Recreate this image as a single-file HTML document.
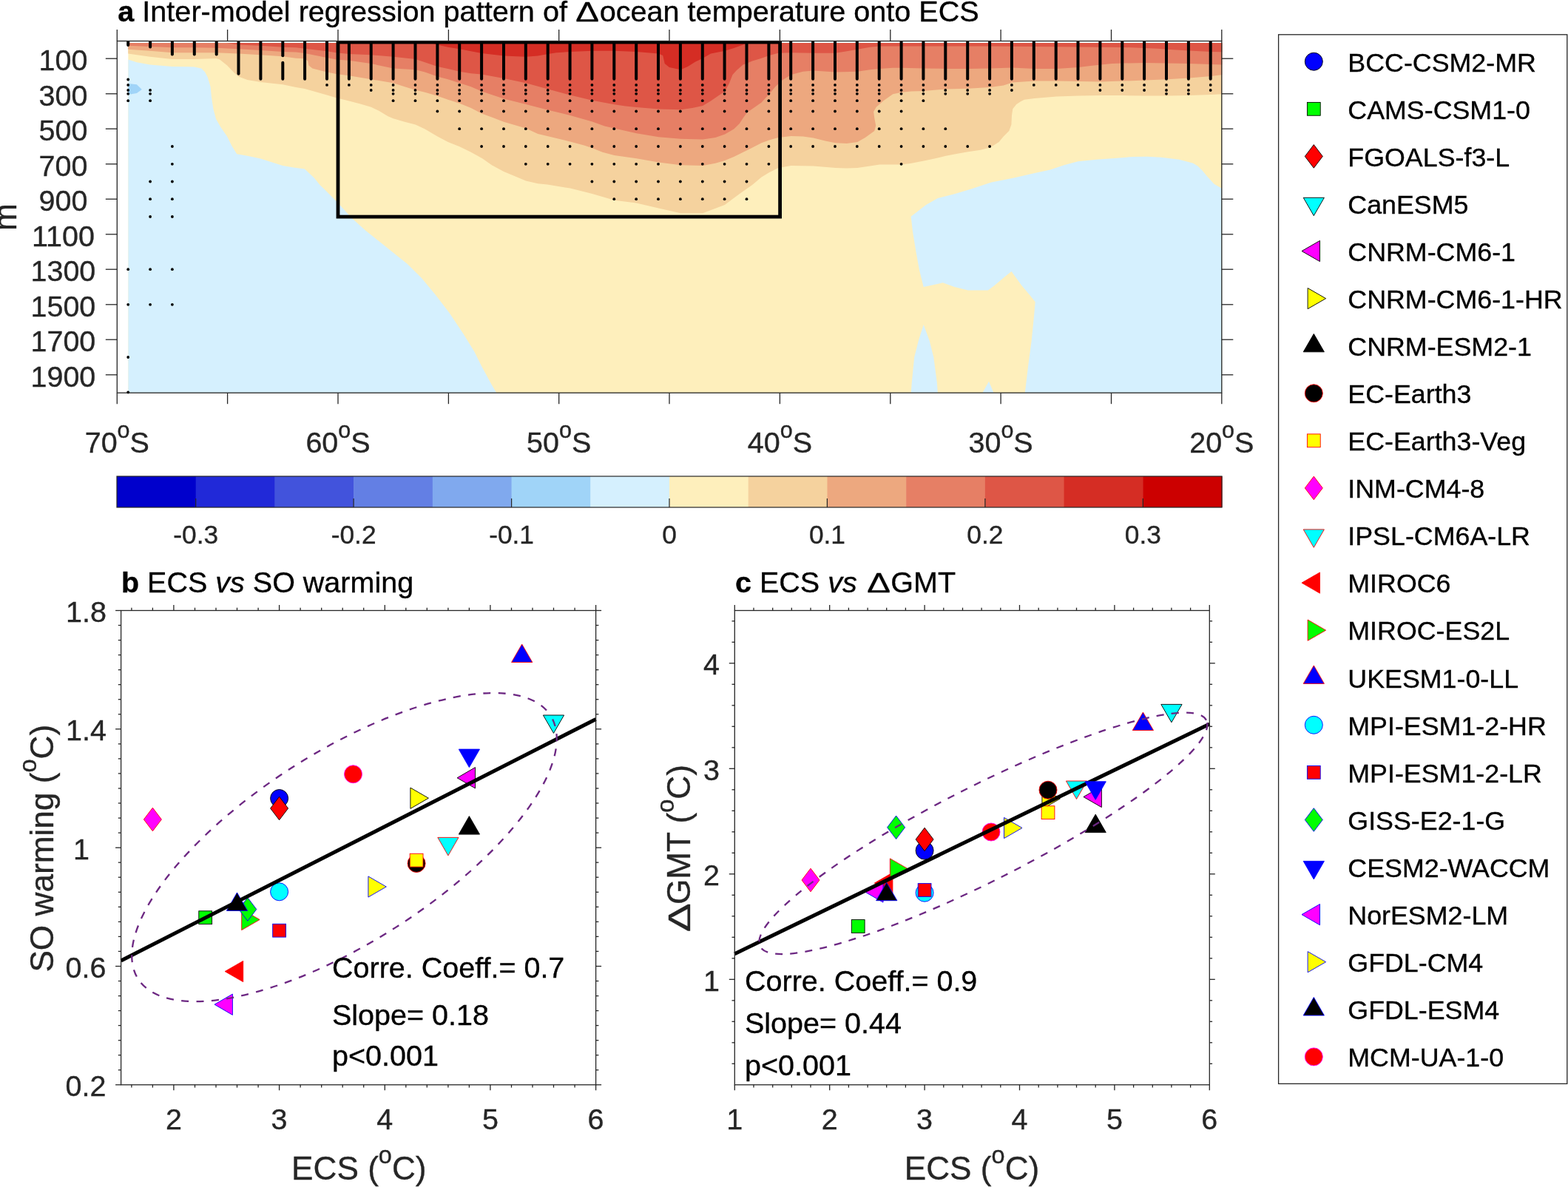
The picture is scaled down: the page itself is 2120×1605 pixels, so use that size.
<!DOCTYPE html>
<html lang="en"><head><meta charset="utf-8"><title>Inter-model regression pattern of ocean temperature onto ECS</title>
<style>html,body{margin:0;padding:0;background:#fff;}body{width:2120px;height:1605px;overflow:hidden;}svg{display:block;}text{white-space:pre;}</style>
</head><body>
<svg xmlns="http://www.w3.org/2000/svg" width="2120" height="1605" viewBox="0 0 2120 1605" font-family="'Liberation Sans', Arial, Helvetica, sans-serif">
<rect width="2120" height="1605" fill="#fff"/>
<g id="panel-a">
<clipPath id="ca"><rect x="173.2" y="57.9" width="1479.1" height="473.3"/></clipPath>
<clipPath id="cb"><rect x="158.3" y="55.5" width="1493.5" height="478.7"/></clipPath>
<g clip-path="url(#ca)">
<rect x="173.2" y="55.5" width="1481.1" height="477.7" fill="#FEEFBC"/>
<polygon points="173.2,80.5 184.9,84.3 202.9,87.4 232.8,89.9 262.6,90.5 272.2,92.4 277.2,97.4 280.9,104.8 284.6,117.3 285.9,131.0 288.4,147.2 292.1,160.9 298.4,172.1 307.1,184.6 313.3,197.1 320.2,208.3 334.5,210.8 352.3,214.5 371.9,220.8 382.2,223.9 396.8,226.4 412.0,228.5 425.0,240.7 432.4,250.0 437.7,255.1 456.6,274.0 475.5,294.7 494.3,311.7 513.2,326.8 532.1,341.9 550.9,357.0 569.8,375.8 588.7,398.5 607.5,423.0 626.4,451.3 641.5,475.8 650.9,494.7 664.2,519.2 671.7,532.0 173.2,531.5" fill="#D5F0FE"/>
<polygon points="1653.0,255.5 1641.5,248.7 1631.9,238.2 1625.7,230.7 1619.4,224.5 1613.2,220.8 1594.5,215.8 1569.6,212.7 1550.9,211.8 1532.2,212.0 1507.2,213.9 1482.3,215.8 1457.4,218.3 1438.7,223.3 1420.0,229.5 1399.2,234.0 1369.8,240.8 1340.4,246.4 1313.2,255.5 1290.6,262.3 1267.9,267.9 1252.1,277.0 1231.7,292.8 1234.0,313.2 1238.5,340.4 1243.0,365.3 1248.7,387.9 1274.7,382.3 1290.6,387.9 1308.7,392.5 1335.9,392.5 1344.9,385.7 1358.5,374.3 1367.5,367.1 1381.1,385.7 1392.5,399.2 1399.7,408.3 1398.1,426.4 1394.7,460.4 1390.2,494.3 1385.7,532.0 1653.0,532.0" fill="#D5F0FE"/>
<polygon points="1248.7,438.9 1241.9,460.4 1236.2,483.0 1232.8,517.0 1231.7,532.0 1267.9,532.0 1266.8,517.0 1262.3,483.0 1256.6,460.4" fill="#D5F0FE"/>
<polygon points="1337.0,515.8 1327.9,532.0 1343.8,532.0" fill="#D5F0FE"/>
<polygon points="173.2,112.9 184.9,114.2 191.8,121.0 184.9,126.0 173.2,127.9" fill="#A0D4F8"/>
<polygon points="172.2,54.5 172.2,72.4 173.2,72.4 202.9,76.8 232.8,79.9 262.6,79.9 292.5,78.9 297.1,80.5 307.1,88.6 315.8,97.4 322.4,103.6 334.5,108.0 352.3,111.1 382.2,114.2 400.0,117.9 412.0,120.0 442.0,128.5 454.5,132.3 471.9,136.6 487.2,140.4 501.7,144.7 512.2,149.7 524.6,157.2 531.7,160.3 547.1,164.7 561.7,168.4 574.5,174.6 591.5,184.6 605.7,192.1 621.4,198.3 636.8,205.8 652.5,214.5 664.9,223.3 681.1,232.0 696.1,238.2 711.0,244.4 727.2,248.2 740.0,249.5 770.9,254.6 800.7,262.0 830.6,270.8 860.4,274.5 890.3,281.4 920.2,288.2 950.1,288.2 979.9,277.0 1000.0,262.0 1017.1,250.0 1029.6,239.5 1039.9,233.2 1052.3,227.0 1069.7,223.9 1099.6,224.5 1129.5,227.0 1144.9,227.6 1159.4,227.0 1176.1,224.5 1189.3,222.6 1207.2,222.6 1219.2,222.6 1232.2,220.8 1249.1,217.6 1263.3,214.5 1278.9,210.8 1294.5,207.7 1308.8,205.2 1325.7,202.7 1338.7,199.6 1350.6,192.1 1356.8,184.6 1364.3,177.1 1367.4,168.4 1368.0,155.9 1369.3,147.2 1374.3,141.0 1380.0,137.3 1384.9,134.8 1398.6,132.9 1428.6,130.4 1458.3,129.5 1488.4,129.1 1518.2,129.1 1548.0,129.5 1577.9,129.5 1607.8,129.1 1637.6,127.9 1653.0,127.3 1652.8,127.3 1652.8,54.5" fill="#F5D29E"/>
<polygon points="172.2,54.5 172.2,66.8 173.2,66.8 202.9,68.7 232.8,71.2 262.6,71.2 292.5,71.2 322.4,72.4 352.3,74.3 382.2,76.2 400.0,78.7 412.1,79.3 416.2,82.4 417.4,88.6 422.4,92.4 442.0,97.4 454.5,99.9 471.9,102.3 501.7,107.3 531.7,112.3 547.1,117.3 561.7,121.7 574.5,124.8 591.5,129.8 605.7,134.8 621.4,139.7 636.8,146.0 651.2,153.5 664.9,158.4 681.1,164.7 711.0,173.4 727.2,180.9 741.0,184.2 770.8,191.5 789.6,196.5 800.8,200.3 814.5,205.8 830.5,210.0 860.5,214.3 890.5,219.6 920.3,223.3 950.2,224.0 967.2,220.8 980.1,217.0 992.2,212.0 1009.9,203.3 1029.6,193.3 1039.9,189.6 1052.3,185.9 1069.7,184.0 1085.7,184.6 1099.6,186.5 1116.8,190.8 1129.6,193.3 1144.9,194.0 1159.4,192.1 1169.9,185.9 1182.3,177.1 1184.2,169.7 1182.3,159.7 1181.1,151.0 1184.8,144.7 1194.8,136.0 1207.2,127.3 1219.2,124.8 1232.2,123.5 1249.1,122.9 1278.9,120.4 1308.8,119.8 1338.7,117.9 1356.8,115.4 1368.7,111.5 1398.6,109.6 1428.6,109.6 1458.3,110.1 1488.4,110.5 1518.2,109.6 1548.0,108.6 1577.9,107.2 1607.8,105.5 1637.6,103.0 1653.0,101.1 1652.8,101.1 1652.8,54.5" fill="#EDA87F"/>
<polygon points="172.2,54.5 172.2,61.8 173.2,61.8 202.9,63.1 232.8,64.3 262.6,64.3 292.5,64.7 322.4,66.2 352.3,68.1 382.2,69.9 400.0,70.6 412.1,72.0 442.0,78.0 454.5,80.5 471.9,81.8 501.7,86.1 531.7,92.4 561.7,94.2 574.5,97.4 591.5,103.6 605.7,107.3 621.4,112.3 636.8,117.3 651.2,123.5 681.1,133.5 711.0,141.0 741.0,148.7 770.8,156.0 800.8,164.5 817.3,170.5 830.5,173.5 860.5,180.3 890.5,185.3 920.3,187.8 950.2,188.4 967.2,185.9 980.1,181.5 992.2,174.6 999.7,167.2 1004.6,159.7 1009.9,152.2 1017.1,147.2 1029.6,138.5 1039.9,127.3 1048.3,117.3 1057.6,108.6 1069.7,101.1 1085.7,96.7 1099.6,95.5 1129.6,97.4 1159.4,96.7 1176.1,94.2 1189.3,93.0 1207.2,91.8 1219.2,91.8 1249.1,92.4 1278.9,93.0 1308.8,93.0 1338.7,92.4 1368.7,91.6 1398.6,93.0 1428.6,93.0 1458.3,91.1 1472.2,89.3 1488.4,87.4 1503.3,86.1 1518.2,85.5 1548.0,84.9 1577.9,85.4 1607.8,86.1 1637.6,87.1 1653.0,87.4 1652.8,87.4 1652.8,54.5" fill="#E67F65"/>
<polygon points="296.0,54.5 300.0,57.0 322.4,60.6 352.3,61.8 382.2,63.7 400.0,64.3 412.1,65.8 442.0,69.3 454.5,71.2 471.9,73.1 501.7,74.3 531.7,76.8 561.7,79.9 574.5,84.3 591.5,89.9 605.7,93.0 621.4,96.7 636.8,99.2 651.2,100.5 681.1,106.1 711.0,112.3 741.0,120.5 770.8,128.5 800.8,135.8 830.5,141.2 845.7,143.5 860.5,145.0 890.5,147.5 920.3,148.3 936.1,146.0 950.2,143.0 961.0,136.5 969.7,130.5 980.1,123.5 986.0,112.4 990.5,101.0 996.0,95.0 1004.6,87.4 1009.9,85.5 1017.1,82.4 1029.6,78.7 1039.9,74.9 1052.3,71.8 1069.7,71.2 1099.6,71.8 1129.6,71.8 1144.9,69.3 1159.4,66.8 1176.1,63.7 1189.3,62.5 1219.2,62.5 1278.9,62.5 1338.7,62.5 1368.7,62.8 1398.6,63.1 1458.3,63.5 1488.4,63.7 1518.2,63.9 1548.0,65.0 1565.7,65.8 1577.9,66.8 1607.8,68.4 1637.6,69.9 1653.0,70.2 1652.8,70.2 1652.8,54.5" fill="#DE5646"/>
<polygon points="578.0,54.5 578.0,57.0 591.5,60.6 605.7,63.7 621.4,66.2 636.8,69.3 651.2,72.0 681.1,75.6 711.0,76.8 727.2,75.6 741.0,73.1 752.2,71.2 770.8,69.9 800.8,68.7 830.5,68.7 860.5,69.9 890.5,72.4 896.2,74.9 898.7,86.1 904.9,91.1 920.3,94.2 929.9,89.9 939.8,83.7 950.2,78.7 961.0,72.4 980.1,68.7 992.2,65.0 1004.6,60.6 1013.0,57.0 1013.0,54.5" fill="#D52D24"/>
</g>
<g fill="#000" stroke="#000" clip-path="url(#cb)"><line x1="173.2" y1="56.5" x2="173.2" y2="61.1" stroke-width="4" stroke-linecap="round"/><circle cx="173.2" cy="107.5" r="1.9" stroke="none"/><circle cx="173.2" cy="114.9" r="1.9" stroke="none"/><circle cx="173.2" cy="122.0" r="1.9" stroke="none"/><circle cx="173.2" cy="126.8" r="1.9" stroke="none"/><circle cx="173.2" cy="136.2" r="1.9" stroke="none"/><circle cx="173.2" cy="364.2" r="1.9" stroke="none"/><circle cx="173.2" cy="411.8" r="1.9" stroke="none"/><circle cx="173.2" cy="483.0" r="1.9" stroke="none"/><circle cx="173.2" cy="530.5" r="1.9" stroke="none"/><line x1="203.1" y1="56.5" x2="203.1" y2="63.6" stroke-width="4" stroke-linecap="round"/><circle cx="203.1" cy="122.0" r="1.9" stroke="none"/><circle cx="203.1" cy="126.8" r="1.9" stroke="none"/><circle cx="203.1" cy="136.2" r="1.9" stroke="none"/><circle cx="203.1" cy="245.5" r="1.9" stroke="none"/><circle cx="203.1" cy="269.2" r="1.9" stroke="none"/><circle cx="203.1" cy="293.0" r="1.9" stroke="none"/><circle cx="203.1" cy="364.2" r="1.9" stroke="none"/><circle cx="203.1" cy="411.8" r="1.9" stroke="none"/><line x1="232.9" y1="56.5" x2="232.9" y2="73.5" stroke-width="4" stroke-linecap="round"/><circle cx="232.9" cy="198.0" r="1.9" stroke="none"/><circle cx="232.9" cy="221.8" r="1.9" stroke="none"/><circle cx="232.9" cy="245.5" r="1.9" stroke="none"/><circle cx="232.9" cy="269.2" r="1.9" stroke="none"/><circle cx="232.9" cy="293.0" r="1.9" stroke="none"/><circle cx="232.9" cy="364.2" r="1.9" stroke="none"/><circle cx="232.9" cy="411.8" r="1.9" stroke="none"/><line x1="262.8" y1="56.5" x2="262.8" y2="73.5" stroke-width="4" stroke-linecap="round"/><line x1="292.7" y1="56.5" x2="292.7" y2="73.5" stroke-width="4" stroke-linecap="round"/><line x1="322.5" y1="56.5" x2="322.5" y2="99.7" stroke-width="4" stroke-linecap="round"/><line x1="352.4" y1="56.5" x2="352.4" y2="106.7" stroke-width="4" stroke-linecap="round"/><line x1="382.3" y1="56.5" x2="382.3" y2="75.2" stroke-width="4" stroke-linecap="round"/><line x1="382.3" y1="84.7" x2="382.3" y2="106.7" stroke-width="4" stroke-linecap="round"/><line x1="412.1" y1="56.5" x2="412.1" y2="106.7" stroke-width="4" stroke-linecap="round"/><line x1="442.0" y1="56.5" x2="442.0" y2="106.7" stroke-width="4" stroke-linecap="round"/><circle cx="442.0" cy="114.9" r="1.9" stroke="none"/><line x1="471.9" y1="56.5" x2="471.9" y2="106.7" stroke-width="4" stroke-linecap="round"/><circle cx="471.9" cy="114.9" r="1.9" stroke="none"/><line x1="501.7" y1="56.5" x2="501.7" y2="106.7" stroke-width="4" stroke-linecap="round"/><circle cx="501.7" cy="114.9" r="1.9" stroke="none"/><circle cx="501.7" cy="122.0" r="1.9" stroke="none"/><line x1="531.6" y1="56.5" x2="531.6" y2="106.7" stroke-width="4" stroke-linecap="round"/><circle cx="531.6" cy="114.9" r="1.9" stroke="none"/><circle cx="531.6" cy="122.0" r="1.9" stroke="none"/><circle cx="531.6" cy="126.8" r="1.9" stroke="none"/><circle cx="531.6" cy="136.2" r="1.9" stroke="none"/><line x1="561.5" y1="56.5" x2="561.5" y2="106.7" stroke-width="4" stroke-linecap="round"/><circle cx="561.5" cy="114.9" r="1.9" stroke="none"/><circle cx="561.5" cy="122.0" r="1.9" stroke="none"/><circle cx="561.5" cy="126.8" r="1.9" stroke="none"/><circle cx="561.5" cy="136.2" r="1.9" stroke="none"/><line x1="591.4" y1="56.5" x2="591.4" y2="106.7" stroke-width="4" stroke-linecap="round"/><circle cx="591.4" cy="114.9" r="1.9" stroke="none"/><circle cx="591.4" cy="122.0" r="1.9" stroke="none"/><circle cx="591.4" cy="126.8" r="1.9" stroke="none"/><circle cx="591.4" cy="136.2" r="1.9" stroke="none"/><circle cx="591.4" cy="150.5" r="1.9" stroke="none"/><line x1="621.2" y1="56.5" x2="621.2" y2="106.7" stroke-width="4" stroke-linecap="round"/><circle cx="621.2" cy="114.9" r="1.9" stroke="none"/><circle cx="621.2" cy="122.0" r="1.9" stroke="none"/><circle cx="621.2" cy="126.8" r="1.9" stroke="none"/><circle cx="621.2" cy="136.2" r="1.9" stroke="none"/><circle cx="621.2" cy="150.5" r="1.9" stroke="none"/><circle cx="621.2" cy="174.2" r="1.9" stroke="none"/><line x1="651.1" y1="56.5" x2="651.1" y2="106.7" stroke-width="4" stroke-linecap="round"/><circle cx="651.1" cy="114.9" r="1.9" stroke="none"/><circle cx="651.1" cy="122.0" r="1.9" stroke="none"/><circle cx="651.1" cy="126.8" r="1.9" stroke="none"/><circle cx="651.1" cy="136.2" r="1.9" stroke="none"/><circle cx="651.1" cy="150.5" r="1.9" stroke="none"/><circle cx="651.1" cy="174.2" r="1.9" stroke="none"/><circle cx="651.1" cy="198.0" r="1.9" stroke="none"/><line x1="681.0" y1="56.5" x2="681.0" y2="106.7" stroke-width="4" stroke-linecap="round"/><circle cx="681.0" cy="114.9" r="1.9" stroke="none"/><circle cx="681.0" cy="122.0" r="1.9" stroke="none"/><circle cx="681.0" cy="126.8" r="1.9" stroke="none"/><circle cx="681.0" cy="136.2" r="1.9" stroke="none"/><circle cx="681.0" cy="150.5" r="1.9" stroke="none"/><circle cx="681.0" cy="174.2" r="1.9" stroke="none"/><circle cx="681.0" cy="198.0" r="1.9" stroke="none"/><line x1="710.8" y1="56.5" x2="710.8" y2="106.7" stroke-width="4" stroke-linecap="round"/><circle cx="710.8" cy="114.9" r="1.9" stroke="none"/><circle cx="710.8" cy="122.0" r="1.9" stroke="none"/><circle cx="710.8" cy="126.8" r="1.9" stroke="none"/><circle cx="710.8" cy="136.2" r="1.9" stroke="none"/><circle cx="710.8" cy="150.5" r="1.9" stroke="none"/><circle cx="710.8" cy="174.2" r="1.9" stroke="none"/><circle cx="710.8" cy="198.0" r="1.9" stroke="none"/><circle cx="710.8" cy="221.8" r="1.9" stroke="none"/><line x1="740.7" y1="56.5" x2="740.7" y2="106.7" stroke-width="4" stroke-linecap="round"/><circle cx="740.7" cy="114.9" r="1.9" stroke="none"/><circle cx="740.7" cy="122.0" r="1.9" stroke="none"/><circle cx="740.7" cy="126.8" r="1.9" stroke="none"/><circle cx="740.7" cy="136.2" r="1.9" stroke="none"/><circle cx="740.7" cy="150.5" r="1.9" stroke="none"/><circle cx="740.7" cy="174.2" r="1.9" stroke="none"/><circle cx="740.7" cy="198.0" r="1.9" stroke="none"/><circle cx="740.7" cy="221.8" r="1.9" stroke="none"/><line x1="770.6" y1="56.5" x2="770.6" y2="106.7" stroke-width="4" stroke-linecap="round"/><circle cx="770.6" cy="114.9" r="1.9" stroke="none"/><circle cx="770.6" cy="122.0" r="1.9" stroke="none"/><circle cx="770.6" cy="126.8" r="1.9" stroke="none"/><circle cx="770.6" cy="136.2" r="1.9" stroke="none"/><circle cx="770.6" cy="150.5" r="1.9" stroke="none"/><circle cx="770.6" cy="174.2" r="1.9" stroke="none"/><circle cx="770.6" cy="198.0" r="1.9" stroke="none"/><circle cx="770.6" cy="221.8" r="1.9" stroke="none"/><line x1="800.4" y1="56.5" x2="800.4" y2="106.7" stroke-width="4" stroke-linecap="round"/><circle cx="800.4" cy="114.9" r="1.9" stroke="none"/><circle cx="800.4" cy="122.0" r="1.9" stroke="none"/><circle cx="800.4" cy="126.8" r="1.9" stroke="none"/><circle cx="800.4" cy="136.2" r="1.9" stroke="none"/><circle cx="800.4" cy="150.5" r="1.9" stroke="none"/><circle cx="800.4" cy="174.2" r="1.9" stroke="none"/><circle cx="800.4" cy="198.0" r="1.9" stroke="none"/><circle cx="800.4" cy="221.8" r="1.9" stroke="none"/><circle cx="800.4" cy="245.5" r="1.9" stroke="none"/><line x1="830.3" y1="56.5" x2="830.3" y2="106.7" stroke-width="4" stroke-linecap="round"/><circle cx="830.3" cy="114.9" r="1.9" stroke="none"/><circle cx="830.3" cy="122.0" r="1.9" stroke="none"/><circle cx="830.3" cy="126.8" r="1.9" stroke="none"/><circle cx="830.3" cy="136.2" r="1.9" stroke="none"/><circle cx="830.3" cy="150.5" r="1.9" stroke="none"/><circle cx="830.3" cy="174.2" r="1.9" stroke="none"/><circle cx="830.3" cy="198.0" r="1.9" stroke="none"/><circle cx="830.3" cy="221.8" r="1.9" stroke="none"/><circle cx="830.3" cy="245.5" r="1.9" stroke="none"/><circle cx="830.3" cy="269.2" r="1.9" stroke="none"/><line x1="860.2" y1="56.5" x2="860.2" y2="106.7" stroke-width="4" stroke-linecap="round"/><circle cx="860.2" cy="114.9" r="1.9" stroke="none"/><circle cx="860.2" cy="122.0" r="1.9" stroke="none"/><circle cx="860.2" cy="126.8" r="1.9" stroke="none"/><circle cx="860.2" cy="136.2" r="1.9" stroke="none"/><circle cx="860.2" cy="150.5" r="1.9" stroke="none"/><circle cx="860.2" cy="174.2" r="1.9" stroke="none"/><circle cx="860.2" cy="198.0" r="1.9" stroke="none"/><circle cx="860.2" cy="221.8" r="1.9" stroke="none"/><circle cx="860.2" cy="245.5" r="1.9" stroke="none"/><circle cx="860.2" cy="269.2" r="1.9" stroke="none"/><line x1="890.0" y1="56.5" x2="890.0" y2="106.7" stroke-width="4" stroke-linecap="round"/><circle cx="890.0" cy="114.9" r="1.9" stroke="none"/><circle cx="890.0" cy="122.0" r="1.9" stroke="none"/><circle cx="890.0" cy="126.8" r="1.9" stroke="none"/><circle cx="890.0" cy="136.2" r="1.9" stroke="none"/><circle cx="890.0" cy="150.5" r="1.9" stroke="none"/><circle cx="890.0" cy="174.2" r="1.9" stroke="none"/><circle cx="890.0" cy="198.0" r="1.9" stroke="none"/><circle cx="890.0" cy="221.8" r="1.9" stroke="none"/><circle cx="890.0" cy="245.5" r="1.9" stroke="none"/><circle cx="890.0" cy="269.2" r="1.9" stroke="none"/><line x1="919.9" y1="56.5" x2="919.9" y2="106.7" stroke-width="4" stroke-linecap="round"/><circle cx="919.9" cy="114.9" r="1.9" stroke="none"/><circle cx="919.9" cy="122.0" r="1.9" stroke="none"/><circle cx="919.9" cy="126.8" r="1.9" stroke="none"/><circle cx="919.9" cy="136.2" r="1.9" stroke="none"/><circle cx="919.9" cy="150.5" r="1.9" stroke="none"/><circle cx="919.9" cy="174.2" r="1.9" stroke="none"/><circle cx="919.9" cy="198.0" r="1.9" stroke="none"/><circle cx="919.9" cy="221.8" r="1.9" stroke="none"/><circle cx="919.9" cy="245.5" r="1.9" stroke="none"/><circle cx="919.9" cy="269.2" r="1.9" stroke="none"/><line x1="949.8" y1="56.5" x2="949.8" y2="106.7" stroke-width="4" stroke-linecap="round"/><circle cx="949.8" cy="114.9" r="1.9" stroke="none"/><circle cx="949.8" cy="122.0" r="1.9" stroke="none"/><circle cx="949.8" cy="126.8" r="1.9" stroke="none"/><circle cx="949.8" cy="136.2" r="1.9" stroke="none"/><circle cx="949.8" cy="150.5" r="1.9" stroke="none"/><circle cx="949.8" cy="174.2" r="1.9" stroke="none"/><circle cx="949.8" cy="198.0" r="1.9" stroke="none"/><circle cx="949.8" cy="221.8" r="1.9" stroke="none"/><circle cx="949.8" cy="245.5" r="1.9" stroke="none"/><circle cx="949.8" cy="269.2" r="1.9" stroke="none"/><line x1="979.6" y1="56.5" x2="979.6" y2="106.7" stroke-width="4" stroke-linecap="round"/><circle cx="979.6" cy="114.9" r="1.9" stroke="none"/><circle cx="979.6" cy="122.0" r="1.9" stroke="none"/><circle cx="979.6" cy="126.8" r="1.9" stroke="none"/><circle cx="979.6" cy="136.2" r="1.9" stroke="none"/><circle cx="979.6" cy="150.5" r="1.9" stroke="none"/><circle cx="979.6" cy="174.2" r="1.9" stroke="none"/><circle cx="979.6" cy="198.0" r="1.9" stroke="none"/><circle cx="979.6" cy="221.8" r="1.9" stroke="none"/><circle cx="979.6" cy="245.5" r="1.9" stroke="none"/><circle cx="979.6" cy="269.2" r="1.9" stroke="none"/><line x1="1009.5" y1="56.5" x2="1009.5" y2="106.7" stroke-width="4" stroke-linecap="round"/><circle cx="1009.5" cy="114.9" r="1.9" stroke="none"/><circle cx="1009.5" cy="122.0" r="1.9" stroke="none"/><circle cx="1009.5" cy="126.8" r="1.9" stroke="none"/><circle cx="1009.5" cy="136.2" r="1.9" stroke="none"/><circle cx="1009.5" cy="150.5" r="1.9" stroke="none"/><circle cx="1009.5" cy="174.2" r="1.9" stroke="none"/><circle cx="1009.5" cy="198.0" r="1.9" stroke="none"/><circle cx="1009.5" cy="221.8" r="1.9" stroke="none"/><circle cx="1009.5" cy="245.5" r="1.9" stroke="none"/><circle cx="1009.5" cy="269.2" r="1.9" stroke="none"/><line x1="1039.4" y1="56.5" x2="1039.4" y2="106.7" stroke-width="4" stroke-linecap="round"/><circle cx="1039.4" cy="114.9" r="1.9" stroke="none"/><circle cx="1039.4" cy="122.0" r="1.9" stroke="none"/><circle cx="1039.4" cy="126.8" r="1.9" stroke="none"/><circle cx="1039.4" cy="136.2" r="1.9" stroke="none"/><circle cx="1039.4" cy="150.5" r="1.9" stroke="none"/><circle cx="1039.4" cy="174.2" r="1.9" stroke="none"/><circle cx="1039.4" cy="198.0" r="1.9" stroke="none"/><circle cx="1039.4" cy="221.8" r="1.9" stroke="none"/><line x1="1069.2" y1="56.5" x2="1069.2" y2="106.7" stroke-width="4" stroke-linecap="round"/><circle cx="1069.2" cy="114.9" r="1.9" stroke="none"/><circle cx="1069.2" cy="122.0" r="1.9" stroke="none"/><circle cx="1069.2" cy="126.8" r="1.9" stroke="none"/><circle cx="1069.2" cy="136.2" r="1.9" stroke="none"/><circle cx="1069.2" cy="150.5" r="1.9" stroke="none"/><circle cx="1069.2" cy="174.2" r="1.9" stroke="none"/><circle cx="1069.2" cy="198.0" r="1.9" stroke="none"/><line x1="1099.1" y1="56.5" x2="1099.1" y2="106.7" stroke-width="4" stroke-linecap="round"/><circle cx="1099.1" cy="114.9" r="1.9" stroke="none"/><circle cx="1099.1" cy="122.0" r="1.9" stroke="none"/><circle cx="1099.1" cy="126.8" r="1.9" stroke="none"/><circle cx="1099.1" cy="136.2" r="1.9" stroke="none"/><circle cx="1099.1" cy="150.5" r="1.9" stroke="none"/><circle cx="1099.1" cy="174.2" r="1.9" stroke="none"/><circle cx="1099.1" cy="198.0" r="1.9" stroke="none"/><line x1="1129.0" y1="56.5" x2="1129.0" y2="106.7" stroke-width="4" stroke-linecap="round"/><circle cx="1129.0" cy="114.9" r="1.9" stroke="none"/><circle cx="1129.0" cy="122.0" r="1.9" stroke="none"/><circle cx="1129.0" cy="126.8" r="1.9" stroke="none"/><circle cx="1129.0" cy="136.2" r="1.9" stroke="none"/><circle cx="1129.0" cy="150.5" r="1.9" stroke="none"/><circle cx="1129.0" cy="174.2" r="1.9" stroke="none"/><circle cx="1129.0" cy="198.0" r="1.9" stroke="none"/><line x1="1158.8" y1="56.5" x2="1158.8" y2="106.7" stroke-width="4" stroke-linecap="round"/><circle cx="1158.8" cy="114.9" r="1.9" stroke="none"/><circle cx="1158.8" cy="122.0" r="1.9" stroke="none"/><circle cx="1158.8" cy="126.8" r="1.9" stroke="none"/><circle cx="1158.8" cy="136.2" r="1.9" stroke="none"/><circle cx="1158.8" cy="150.5" r="1.9" stroke="none"/><circle cx="1158.8" cy="174.2" r="1.9" stroke="none"/><circle cx="1158.8" cy="198.0" r="1.9" stroke="none"/><line x1="1188.7" y1="56.5" x2="1188.7" y2="106.7" stroke-width="4" stroke-linecap="round"/><circle cx="1188.7" cy="114.9" r="1.9" stroke="none"/><circle cx="1188.7" cy="122.0" r="1.9" stroke="none"/><circle cx="1188.7" cy="126.8" r="1.9" stroke="none"/><circle cx="1188.7" cy="136.2" r="1.9" stroke="none"/><circle cx="1188.7" cy="150.5" r="1.9" stroke="none"/><circle cx="1188.7" cy="174.2" r="1.9" stroke="none"/><circle cx="1188.7" cy="198.0" r="1.9" stroke="none"/><line x1="1218.6" y1="56.5" x2="1218.6" y2="106.7" stroke-width="4" stroke-linecap="round"/><circle cx="1218.6" cy="114.9" r="1.9" stroke="none"/><circle cx="1218.6" cy="122.0" r="1.9" stroke="none"/><circle cx="1218.6" cy="126.8" r="1.9" stroke="none"/><circle cx="1218.6" cy="136.2" r="1.9" stroke="none"/><circle cx="1218.6" cy="150.5" r="1.9" stroke="none"/><circle cx="1218.6" cy="174.2" r="1.9" stroke="none"/><circle cx="1218.6" cy="198.0" r="1.9" stroke="none"/><circle cx="1218.6" cy="221.8" r="1.9" stroke="none"/><line x1="1248.4" y1="56.5" x2="1248.4" y2="106.7" stroke-width="4" stroke-linecap="round"/><circle cx="1248.4" cy="114.9" r="1.9" stroke="none"/><circle cx="1248.4" cy="122.0" r="1.9" stroke="none"/><circle cx="1248.4" cy="126.8" r="1.9" stroke="none"/><circle cx="1248.4" cy="136.2" r="1.9" stroke="none"/><circle cx="1248.4" cy="174.2" r="1.9" stroke="none"/><circle cx="1248.4" cy="198.0" r="1.9" stroke="none"/><line x1="1278.3" y1="56.5" x2="1278.3" y2="106.7" stroke-width="4" stroke-linecap="round"/><circle cx="1278.3" cy="114.9" r="1.9" stroke="none"/><circle cx="1278.3" cy="122.0" r="1.9" stroke="none"/><circle cx="1278.3" cy="126.8" r="1.9" stroke="none"/><circle cx="1278.3" cy="174.2" r="1.9" stroke="none"/><circle cx="1278.3" cy="198.0" r="1.9" stroke="none"/><line x1="1308.2" y1="56.5" x2="1308.2" y2="106.7" stroke-width="4" stroke-linecap="round"/><circle cx="1308.2" cy="114.9" r="1.9" stroke="none"/><circle cx="1308.2" cy="122.0" r="1.9" stroke="none"/><circle cx="1308.2" cy="126.8" r="1.9" stroke="none"/><circle cx="1308.2" cy="198.0" r="1.9" stroke="none"/><line x1="1338.1" y1="56.5" x2="1338.1" y2="106.7" stroke-width="4" stroke-linecap="round"/><circle cx="1338.1" cy="114.9" r="1.9" stroke="none"/><circle cx="1338.1" cy="122.0" r="1.9" stroke="none"/><circle cx="1338.1" cy="126.8" r="1.9" stroke="none"/><circle cx="1338.1" cy="198.0" r="1.9" stroke="none"/><line x1="1367.9" y1="56.5" x2="1367.9" y2="106.7" stroke-width="4" stroke-linecap="round"/><circle cx="1367.9" cy="114.9" r="1.9" stroke="none"/><circle cx="1367.9" cy="122.0" r="1.9" stroke="none"/><line x1="1397.8" y1="56.5" x2="1397.8" y2="106.7" stroke-width="4" stroke-linecap="round"/><circle cx="1397.8" cy="114.9" r="1.9" stroke="none"/><line x1="1427.7" y1="56.5" x2="1427.7" y2="106.7" stroke-width="4" stroke-linecap="round"/><circle cx="1427.7" cy="114.9" r="1.9" stroke="none"/><line x1="1457.5" y1="56.5" x2="1457.5" y2="106.7" stroke-width="4" stroke-linecap="round"/><circle cx="1457.5" cy="114.9" r="1.9" stroke="none"/><line x1="1487.4" y1="56.5" x2="1487.4" y2="106.7" stroke-width="4" stroke-linecap="round"/><circle cx="1487.4" cy="114.9" r="1.9" stroke="none"/><circle cx="1487.4" cy="122.0" r="1.9" stroke="none"/><line x1="1517.3" y1="56.5" x2="1517.3" y2="106.7" stroke-width="4" stroke-linecap="round"/><circle cx="1517.3" cy="114.9" r="1.9" stroke="none"/><circle cx="1517.3" cy="122.0" r="1.9" stroke="none"/><line x1="1547.1" y1="56.5" x2="1547.1" y2="106.7" stroke-width="4" stroke-linecap="round"/><circle cx="1547.1" cy="114.9" r="1.9" stroke="none"/><circle cx="1547.1" cy="122.0" r="1.9" stroke="none"/><line x1="1577.0" y1="56.5" x2="1577.0" y2="106.7" stroke-width="4" stroke-linecap="round"/><circle cx="1577.0" cy="114.9" r="1.9" stroke="none"/><circle cx="1577.0" cy="122.0" r="1.9" stroke="none"/><circle cx="1577.0" cy="126.8" r="1.9" stroke="none"/><line x1="1606.9" y1="56.5" x2="1606.9" y2="106.7" stroke-width="4" stroke-linecap="round"/><circle cx="1606.9" cy="114.9" r="1.9" stroke="none"/><circle cx="1606.9" cy="122.0" r="1.9" stroke="none"/><circle cx="1606.9" cy="126.8" r="1.9" stroke="none"/><line x1="1636.7" y1="56.5" x2="1636.7" y2="106.7" stroke-width="4" stroke-linecap="round"/><circle cx="1636.7" cy="114.9" r="1.9" stroke="none"/><circle cx="1636.7" cy="122.0" r="1.9" stroke="none"/></g>
<rect x="457.0" y="57.0" width="597.6" height="236.1" fill="none" stroke="#000" stroke-width="4.8" clip-path="url(#cb)"/>
<g stroke="#262626" stroke-width="1.3" fill="none">
<rect x="158.3" y="55.5" width="1493.5" height="475.7"/>
<line x1="158.3" y1="55.5" x2="158.3" y2="40.0"/>
<line x1="158.3" y1="531.2" x2="158.3" y2="546.2"/>
<line x1="307.6" y1="55.5" x2="307.6" y2="40.0"/>
<line x1="307.6" y1="531.2" x2="307.6" y2="546.2"/>
<line x1="457.0" y1="55.5" x2="457.0" y2="40.0"/>
<line x1="457.0" y1="531.2" x2="457.0" y2="546.2"/>
<line x1="606.4" y1="55.5" x2="606.4" y2="40.0"/>
<line x1="606.4" y1="531.2" x2="606.4" y2="546.2"/>
<line x1="755.7" y1="55.5" x2="755.7" y2="40.0"/>
<line x1="755.7" y1="531.2" x2="755.7" y2="546.2"/>
<line x1="905.0" y1="55.5" x2="905.0" y2="40.0"/>
<line x1="905.0" y1="531.2" x2="905.0" y2="546.2"/>
<line x1="1054.4" y1="55.5" x2="1054.4" y2="40.0"/>
<line x1="1054.4" y1="531.2" x2="1054.4" y2="546.2"/>
<line x1="1203.8" y1="55.5" x2="1203.8" y2="40.0"/>
<line x1="1203.8" y1="531.2" x2="1203.8" y2="546.2"/>
<line x1="1353.1" y1="55.5" x2="1353.1" y2="40.0"/>
<line x1="1353.1" y1="531.2" x2="1353.1" y2="546.2"/>
<line x1="1502.5" y1="55.5" x2="1502.5" y2="40.0"/>
<line x1="1502.5" y1="531.2" x2="1502.5" y2="546.2"/>
<line x1="1651.8" y1="55.5" x2="1651.8" y2="40.0"/>
<line x1="1651.8" y1="531.2" x2="1651.8" y2="546.2"/>
<line x1="158.3" y1="79.2" x2="142.8" y2="79.2"/>
<line x1="1651.8" y1="79.2" x2="1667.3" y2="79.2"/>
<line x1="158.3" y1="126.8" x2="142.8" y2="126.8"/>
<line x1="1651.8" y1="126.8" x2="1667.3" y2="126.8"/>
<line x1="158.3" y1="174.2" x2="142.8" y2="174.2"/>
<line x1="1651.8" y1="174.2" x2="1667.3" y2="174.2"/>
<line x1="158.3" y1="221.8" x2="142.8" y2="221.8"/>
<line x1="1651.8" y1="221.8" x2="1667.3" y2="221.8"/>
<line x1="158.3" y1="269.2" x2="142.8" y2="269.2"/>
<line x1="1651.8" y1="269.2" x2="1667.3" y2="269.2"/>
<line x1="158.3" y1="316.8" x2="142.8" y2="316.8"/>
<line x1="1651.8" y1="316.8" x2="1667.3" y2="316.8"/>
<line x1="158.3" y1="364.2" x2="142.8" y2="364.2"/>
<line x1="1651.8" y1="364.2" x2="1667.3" y2="364.2"/>
<line x1="158.3" y1="411.8" x2="142.8" y2="411.8"/>
<line x1="1651.8" y1="411.8" x2="1667.3" y2="411.8"/>
<line x1="158.3" y1="459.2" x2="142.8" y2="459.2"/>
<line x1="1651.8" y1="459.2" x2="1667.3" y2="459.2"/>
<line x1="158.3" y1="506.8" x2="142.8" y2="506.8"/>
<line x1="1651.8" y1="506.8" x2="1667.3" y2="506.8"/>
</g>
<text transform="translate(85.40,95.15)" font-size="39.5" text-anchor="middle" fill="#262626" stroke="#262626" stroke-width="0.35">100</text>
<text transform="translate(85.40,142.65)" font-size="39.5" text-anchor="middle" fill="#262626" stroke="#262626" stroke-width="0.35">300</text>
<text transform="translate(85.40,190.15)" font-size="39.5" text-anchor="middle" fill="#262626" stroke="#262626" stroke-width="0.35">500</text>
<text transform="translate(85.40,237.65)" font-size="39.5" text-anchor="middle" fill="#262626" stroke="#262626" stroke-width="0.35">700</text>
<text transform="translate(85.40,285.15)" font-size="39.5" text-anchor="middle" fill="#262626" stroke="#262626" stroke-width="0.35">900</text>
<text transform="translate(85.40,332.65)" font-size="39.5" text-anchor="middle" fill="#262626" stroke="#262626" stroke-width="0.35">1100</text>
<text transform="translate(85.40,380.15)" font-size="39.5" text-anchor="middle" fill="#262626" stroke="#262626" stroke-width="0.35">1300</text>
<text transform="translate(85.40,427.65)" font-size="39.5" text-anchor="middle" fill="#262626" stroke="#262626" stroke-width="0.35">1500</text>
<text transform="translate(85.40,475.15)" font-size="39.5" text-anchor="middle" fill="#262626" stroke="#262626" stroke-width="0.35">1700</text>
<text transform="translate(85.40,522.65)" font-size="39.5" text-anchor="middle" fill="#262626" stroke="#262626" stroke-width="0.35">1900</text>
<text transform="translate(22.00,293.50) rotate(-90)" font-size="44.2" text-anchor="middle" fill="#262626" stroke="#262626" stroke-width="0.35">m</text>
<text transform="translate(158.30,611.60)" font-size="39.5" text-anchor="middle" fill="#262626" stroke="#262626" stroke-width="0.35">70<tspan font-size="30.5" dy="-19.7">o</tspan><tspan dy="19.7">S</tspan></text>
<text transform="translate(457.00,611.60)" font-size="39.5" text-anchor="middle" fill="#262626" stroke="#262626" stroke-width="0.35">60<tspan font-size="30.5" dy="-19.7">o</tspan><tspan dy="19.7">S</tspan></text>
<text transform="translate(755.70,611.60)" font-size="39.5" text-anchor="middle" fill="#262626" stroke="#262626" stroke-width="0.35">50<tspan font-size="30.5" dy="-19.7">o</tspan><tspan dy="19.7">S</tspan></text>
<text transform="translate(1054.40,611.60)" font-size="39.5" text-anchor="middle" fill="#262626" stroke="#262626" stroke-width="0.35">40<tspan font-size="30.5" dy="-19.7">o</tspan><tspan dy="19.7">S</tspan></text>
<text transform="translate(1353.10,611.60)" font-size="39.5" text-anchor="middle" fill="#262626" stroke="#262626" stroke-width="0.35">30<tspan font-size="30.5" dy="-19.7">o</tspan><tspan dy="19.7">S</tspan></text>
<text transform="translate(1651.80,611.60)" font-size="39.5" text-anchor="middle" fill="#262626" stroke="#262626" stroke-width="0.35">20<tspan font-size="30.5" dy="-19.7">o</tspan><tspan dy="19.7">S</tspan></text>
<text transform="translate(159.30,29.30) scale(1.003,1)" font-size="39.5" fill="#000" stroke="#000" stroke-width="0.35"><tspan font-weight="bold">a</tspan> Inter-model regression pattern of</text>
<text transform="translate(794.20,29.30) scale(1.3,1)" font-size="36.5" text-anchor="middle" fill="#000" stroke="#000" stroke-width="0.35">&#916;</text>
<text transform="translate(810.70,29.30) scale(1.003,1)" font-size="39.5" fill="#000" stroke="#000" stroke-width="0.35">ocean temperature onto ECS</text>
</g>
<g id="colorbar">
<rect x="158.00" y="644.0" width="107.21" height="42.0" fill="#0000CC"/>
<rect x="264.71" y="644.0" width="107.21" height="42.0" fill="#2129D8"/>
<rect x="371.43" y="644.0" width="107.21" height="42.0" fill="#4253DC"/>
<rect x="478.14" y="644.0" width="107.21" height="42.0" fill="#637FE4"/>
<rect x="584.86" y="644.0" width="107.21" height="42.0" fill="#80A9EE"/>
<rect x="691.57" y="644.0" width="107.21" height="42.0" fill="#A0D4F8"/>
<rect x="798.29" y="644.0" width="107.21" height="42.0" fill="#D5F0FE"/>
<rect x="905.00" y="644.0" width="107.21" height="42.0" fill="#FEEFBC"/>
<rect x="1011.71" y="644.0" width="107.21" height="42.0" fill="#F5D29E"/>
<rect x="1118.43" y="644.0" width="107.21" height="42.0" fill="#EDA87F"/>
<rect x="1225.14" y="644.0" width="107.21" height="42.0" fill="#E67F65"/>
<rect x="1331.86" y="644.0" width="107.21" height="42.0" fill="#DE5646"/>
<rect x="1438.57" y="644.0" width="107.21" height="42.0" fill="#D52D24"/>
<rect x="1545.29" y="644.0" width="107.21" height="42.0" fill="#CC0000"/>
<rect x="158.0" y="644.0" width="1494.0" height="42.0" fill="none" stroke="#262626" stroke-width="1.2"/>
<line x1="264.7" y1="686.0" x2="264.7" y2="674.0" stroke="#262626" stroke-width="1.2"/>
<text transform="translate(264.71,735.00)" font-size="35.3" text-anchor="middle" fill="#262626" stroke="#262626" stroke-width="0.35">-0.3</text>
<line x1="478.1" y1="686.0" x2="478.1" y2="674.0" stroke="#262626" stroke-width="1.2"/>
<text transform="translate(478.14,735.00)" font-size="35.3" text-anchor="middle" fill="#262626" stroke="#262626" stroke-width="0.35">-0.2</text>
<line x1="691.6" y1="686.0" x2="691.6" y2="674.0" stroke="#262626" stroke-width="1.2"/>
<text transform="translate(691.57,735.00)" font-size="35.3" text-anchor="middle" fill="#262626" stroke="#262626" stroke-width="0.35">-0.1</text>
<line x1="905.0" y1="686.0" x2="905.0" y2="674.0" stroke="#262626" stroke-width="1.2"/>
<text transform="translate(905.00,735.00)" font-size="35.3" text-anchor="middle" fill="#262626" stroke="#262626" stroke-width="0.35">0</text>
<line x1="1118.4" y1="686.0" x2="1118.4" y2="674.0" stroke="#262626" stroke-width="1.2"/>
<text transform="translate(1118.43,735.00)" font-size="35.3" text-anchor="middle" fill="#262626" stroke="#262626" stroke-width="0.35">0.1</text>
<line x1="1331.9" y1="686.0" x2="1331.9" y2="674.0" stroke="#262626" stroke-width="1.2"/>
<text transform="translate(1331.86,735.00)" font-size="35.3" text-anchor="middle" fill="#262626" stroke="#262626" stroke-width="0.35">0.2</text>
<line x1="1545.3" y1="686.0" x2="1545.3" y2="674.0" stroke="#262626" stroke-width="1.2"/>
<text transform="translate(1545.29,735.00)" font-size="35.3" text-anchor="middle" fill="#262626" stroke="#262626" stroke-width="0.35">0.3</text>
</g>
<g id="panel-b">
<circle cx="377.6" cy="1079.5" r="12.0" fill="#0000FF" stroke="#000000" stroke-width="0.9" stroke-linejoin="miter"/>
<rect x="268.8" y="1231.8" width="17.8" height="17.8" fill="#00FF00" stroke="#000000" stroke-width="0.9" stroke-linejoin="miter"/>
<polygon points="377.6,1077.2 389.6,1093.0 377.6,1108.8 365.6,1093.0" fill="#FF0000" stroke="#000000" stroke-width="0.9" stroke-linejoin="miter"/>
<polygon points="748.5,991.4 734.4,967.0 762.6,967.0" fill="#00FFFF" stroke="#000000" stroke-width="0.9" stroke-linejoin="miter"/>
<polygon points="618.1,1051.8 642.5,1037.6 642.5,1065.9" fill="#FF00FF" stroke="#000000" stroke-width="0.9" stroke-linejoin="miter"/>
<polygon points="579.4,1079.2 554.9,1065.1 554.9,1093.4" fill="#FFFF00" stroke="#000000" stroke-width="0.9" stroke-linejoin="miter"/>
<polygon points="634.4,1103.6 620.3,1128.1 648.5,1128.1" fill="#000000" stroke="#000000" stroke-width="0.9" stroke-linejoin="miter"/>
<circle cx="563.1" cy="1167.5" r="12.0" fill="#000000" stroke="#FF0000" stroke-width="0.9" stroke-linejoin="miter"/>
<rect x="554.2" y="1154.3" width="17.8" height="17.8" fill="#FFFF00" stroke="#FF0000" stroke-width="0.9" stroke-linejoin="miter"/>
<polygon points="206.4,1092.2 218.4,1108.0 206.4,1123.8 194.4,1108.0" fill="#FF00FF" stroke="#FF0000" stroke-width="0.9" stroke-linejoin="miter"/>
<polygon points="605.9,1156.9 591.8,1132.4 620.0,1132.4" fill="#00FFFF" stroke="#FF0000" stroke-width="0.9" stroke-linejoin="miter"/>
<polygon points="304.2,1313.5 328.7,1299.4 328.7,1327.6" fill="#FF0000" stroke="#FF0000" stroke-width="0.9" stroke-linejoin="miter"/>
<polygon points="351.1,1243.5 326.7,1229.4 326.7,1257.6" fill="#00FF00" stroke="#FF0000" stroke-width="0.9" stroke-linejoin="miter"/>
<polygon points="705.7,871.1 691.6,895.5 719.8,895.5" fill="#0000FF" stroke="#FF0000" stroke-width="0.9" stroke-linejoin="miter"/>
<circle cx="377.6" cy="1205.8" r="12.0" fill="#00FFFF" stroke="#0000FF" stroke-width="0.9" stroke-linejoin="miter"/>
<rect x="368.7" y="1249.3" width="17.8" height="17.8" fill="#FF0000" stroke="#0000FF" stroke-width="0.9" stroke-linejoin="miter"/>
<polygon points="334.8,1213.7 346.8,1229.5 334.8,1245.3 322.8,1229.5" fill="#00FF00" stroke="#0000FF" stroke-width="0.9" stroke-linejoin="miter"/>
<polygon points="634.4,1037.6 620.3,1013.1 648.5,1013.1" fill="#0000FF" stroke="#0000FF" stroke-width="0.9" stroke-linejoin="miter"/>
<polygon points="290.0,1358.2 314.4,1344.1 314.4,1372.4" fill="#FF00FF" stroke="#0000FF" stroke-width="0.9" stroke-linejoin="miter"/>
<polygon points="522.3,1199.0 497.9,1184.9 497.9,1213.1" fill="#FFFF00" stroke="#0000FF" stroke-width="0.9" stroke-linejoin="miter"/>
<polygon points="320.5,1206.9 306.4,1231.4 334.6,1231.4" fill="#000000" stroke="#0000FF" stroke-width="0.9" stroke-linejoin="miter"/>
<circle cx="477.5" cy="1046.8" r="12.0" fill="#FF0000" stroke="#FF00FF" stroke-width="0.9" stroke-linejoin="miter"/>
<line x1="163.6" y1="1299" x2="805.6" y2="972.5" stroke="#000" stroke-width="5"/>
<ellipse cx="0" cy="0" rx="330.8" ry="128.8" transform="translate(465.5,1145.6) rotate(-32.57)" fill="none" stroke="#6C2782" stroke-width="2.3" stroke-dasharray="10 10.4" stroke-dashoffset="14.5"/>
<g stroke="#262626" stroke-width="1.3" fill="none">
<rect x="163.6" y="825.5" width="642.0" height="641.3"/>
<line x1="234.9" y1="825.5" x2="234.9" y2="818.0"/><line x1="234.9" y1="1466.8" x2="234.9" y2="1474.3"/>
<line x1="377.6" y1="825.5" x2="377.6" y2="818.0"/><line x1="377.6" y1="1466.8" x2="377.6" y2="1474.3"/>
<line x1="520.3" y1="825.5" x2="520.3" y2="818.0"/><line x1="520.3" y1="1466.8" x2="520.3" y2="1474.3"/>
<line x1="662.9" y1="825.5" x2="662.9" y2="818.0"/><line x1="662.9" y1="1466.8" x2="662.9" y2="1474.3"/>
<line x1="805.6" y1="825.5" x2="805.6" y2="818.0"/><line x1="805.6" y1="1466.8" x2="805.6" y2="1474.3"/>
<line x1="177.9" y1="825.5" x2="177.9" y2="821.7"/><line x1="177.9" y1="1466.8" x2="177.9" y2="1470.6"/>
<line x1="206.4" y1="825.5" x2="206.4" y2="821.7"/><line x1="206.4" y1="1466.8" x2="206.4" y2="1470.6"/>
<line x1="263.5" y1="825.5" x2="263.5" y2="821.7"/><line x1="263.5" y1="1466.8" x2="263.5" y2="1470.6"/>
<line x1="292.0" y1="825.5" x2="292.0" y2="821.7"/><line x1="292.0" y1="1466.8" x2="292.0" y2="1470.6"/>
<line x1="320.5" y1="825.5" x2="320.5" y2="821.7"/><line x1="320.5" y1="1466.8" x2="320.5" y2="1470.6"/>
<line x1="349.1" y1="825.5" x2="349.1" y2="821.7"/><line x1="349.1" y1="1466.8" x2="349.1" y2="1470.6"/>
<line x1="406.1" y1="825.5" x2="406.1" y2="821.7"/><line x1="406.1" y1="1466.8" x2="406.1" y2="1470.6"/>
<line x1="434.7" y1="825.5" x2="434.7" y2="821.7"/><line x1="434.7" y1="1466.8" x2="434.7" y2="1470.6"/>
<line x1="463.2" y1="825.5" x2="463.2" y2="821.7"/><line x1="463.2" y1="1466.8" x2="463.2" y2="1470.6"/>
<line x1="491.7" y1="825.5" x2="491.7" y2="821.7"/><line x1="491.7" y1="1466.8" x2="491.7" y2="1470.6"/>
<line x1="548.8" y1="825.5" x2="548.8" y2="821.7"/><line x1="548.8" y1="1466.8" x2="548.8" y2="1470.6"/>
<line x1="577.3" y1="825.5" x2="577.3" y2="821.7"/><line x1="577.3" y1="1466.8" x2="577.3" y2="1470.6"/>
<line x1="605.9" y1="825.5" x2="605.9" y2="821.7"/><line x1="605.9" y1="1466.8" x2="605.9" y2="1470.6"/>
<line x1="634.4" y1="825.5" x2="634.4" y2="821.7"/><line x1="634.4" y1="1466.8" x2="634.4" y2="1470.6"/>
<line x1="691.5" y1="825.5" x2="691.5" y2="821.7"/><line x1="691.5" y1="1466.8" x2="691.5" y2="1470.6"/>
<line x1="720.0" y1="825.5" x2="720.0" y2="821.7"/><line x1="720.0" y1="1466.8" x2="720.0" y2="1470.6"/>
<line x1="748.5" y1="825.5" x2="748.5" y2="821.7"/><line x1="748.5" y1="1466.8" x2="748.5" y2="1470.6"/>
<line x1="777.1" y1="825.5" x2="777.1" y2="821.7"/><line x1="777.1" y1="1466.8" x2="777.1" y2="1470.6"/>
<line x1="163.6" y1="825.5" x2="156.1" y2="825.5"/><line x1="805.6" y1="825.5" x2="813.1" y2="825.5"/>
<line x1="163.6" y1="985.8" x2="156.1" y2="985.8"/><line x1="805.6" y1="985.8" x2="813.1" y2="985.8"/>
<line x1="163.6" y1="1146.2" x2="156.1" y2="1146.2"/><line x1="805.6" y1="1146.2" x2="813.1" y2="1146.2"/>
<line x1="163.6" y1="1306.5" x2="156.1" y2="1306.5"/><line x1="805.6" y1="1306.5" x2="813.1" y2="1306.5"/>
<line x1="163.6" y1="1466.8" x2="156.1" y2="1466.8"/><line x1="805.6" y1="1466.8" x2="813.1" y2="1466.8"/>
<line x1="163.6" y1="1446.8" x2="159.79999999999998" y2="1446.8"/><line x1="805.6" y1="1446.8" x2="809.4" y2="1446.8"/>
<line x1="163.6" y1="1426.7" x2="159.79999999999998" y2="1426.7"/><line x1="805.6" y1="1426.7" x2="809.4" y2="1426.7"/>
<line x1="163.6" y1="1406.7" x2="159.79999999999998" y2="1406.7"/><line x1="805.6" y1="1406.7" x2="809.4" y2="1406.7"/>
<line x1="163.6" y1="1386.6" x2="159.79999999999998" y2="1386.6"/><line x1="805.6" y1="1386.6" x2="809.4" y2="1386.6"/>
<line x1="163.6" y1="1366.6" x2="159.79999999999998" y2="1366.6"/><line x1="805.6" y1="1366.6" x2="809.4" y2="1366.6"/>
<line x1="163.6" y1="1346.6" x2="159.79999999999998" y2="1346.6"/><line x1="805.6" y1="1346.6" x2="809.4" y2="1346.6"/>
<line x1="163.6" y1="1326.5" x2="159.79999999999998" y2="1326.5"/><line x1="805.6" y1="1326.5" x2="809.4" y2="1326.5"/>
<line x1="163.6" y1="1286.4" x2="159.79999999999998" y2="1286.4"/><line x1="805.6" y1="1286.4" x2="809.4" y2="1286.4"/>
<line x1="163.6" y1="1266.4" x2="159.79999999999998" y2="1266.4"/><line x1="805.6" y1="1266.4" x2="809.4" y2="1266.4"/>
<line x1="163.6" y1="1246.4" x2="159.79999999999998" y2="1246.4"/><line x1="805.6" y1="1246.4" x2="809.4" y2="1246.4"/>
<line x1="163.6" y1="1226.3" x2="159.79999999999998" y2="1226.3"/><line x1="805.6" y1="1226.3" x2="809.4" y2="1226.3"/>
<line x1="163.6" y1="1206.3" x2="159.79999999999998" y2="1206.3"/><line x1="805.6" y1="1206.3" x2="809.4" y2="1206.3"/>
<line x1="163.6" y1="1186.2" x2="159.79999999999998" y2="1186.2"/><line x1="805.6" y1="1186.2" x2="809.4" y2="1186.2"/>
<line x1="163.6" y1="1166.2" x2="159.79999999999998" y2="1166.2"/><line x1="805.6" y1="1166.2" x2="809.4" y2="1166.2"/>
<line x1="163.6" y1="1126.1" x2="159.79999999999998" y2="1126.1"/><line x1="805.6" y1="1126.1" x2="809.4" y2="1126.1"/>
<line x1="163.6" y1="1106.1" x2="159.79999999999998" y2="1106.1"/><line x1="805.6" y1="1106.1" x2="809.4" y2="1106.1"/>
<line x1="163.6" y1="1086.0" x2="159.79999999999998" y2="1086.0"/><line x1="805.6" y1="1086.0" x2="809.4" y2="1086.0"/>
<line x1="163.6" y1="1066.0" x2="159.79999999999998" y2="1066.0"/><line x1="805.6" y1="1066.0" x2="809.4" y2="1066.0"/>
<line x1="163.6" y1="1045.9" x2="159.79999999999998" y2="1045.9"/><line x1="805.6" y1="1045.9" x2="809.4" y2="1045.9"/>
<line x1="163.6" y1="1025.9" x2="159.79999999999998" y2="1025.9"/><line x1="805.6" y1="1025.9" x2="809.4" y2="1025.9"/>
<line x1="163.6" y1="1005.9" x2="159.79999999999998" y2="1005.9"/><line x1="805.6" y1="1005.9" x2="809.4" y2="1005.9"/>
<line x1="163.6" y1="965.8" x2="159.79999999999998" y2="965.8"/><line x1="805.6" y1="965.8" x2="809.4" y2="965.8"/>
<line x1="163.6" y1="945.7" x2="159.79999999999998" y2="945.7"/><line x1="805.6" y1="945.7" x2="809.4" y2="945.7"/>
<line x1="163.6" y1="925.7" x2="159.79999999999998" y2="925.7"/><line x1="805.6" y1="925.7" x2="809.4" y2="925.7"/>
<line x1="163.6" y1="905.7" x2="159.79999999999998" y2="905.7"/><line x1="805.6" y1="905.7" x2="809.4" y2="905.7"/>
<line x1="163.6" y1="885.6" x2="159.79999999999998" y2="885.6"/><line x1="805.6" y1="885.6" x2="809.4" y2="885.6"/>
<line x1="163.6" y1="865.6" x2="159.79999999999998" y2="865.6"/><line x1="805.6" y1="865.6" x2="809.4" y2="865.6"/>
<line x1="163.6" y1="845.5" x2="159.79999999999998" y2="845.5"/><line x1="805.6" y1="845.5" x2="809.4" y2="845.5"/>
</g>
<text transform="translate(116.50,841.10)" font-size="39.5" text-anchor="middle" fill="#262626" stroke="#262626" stroke-width="0.35">1.8</text>
<text transform="translate(116.50,1001.43)" font-size="39.5" text-anchor="middle" fill="#262626" stroke="#262626" stroke-width="0.35">1.4</text>
<text transform="translate(110.00,1161.75)" font-size="39.5" text-anchor="middle" fill="#262626" stroke="#262626" stroke-width="0.35">1</text>
<text transform="translate(116.00,1322.07)" font-size="39.5" text-anchor="middle" fill="#262626" stroke="#262626" stroke-width="0.35">0.6</text>
<text transform="translate(116.00,1482.40)" font-size="39.5" text-anchor="middle" fill="#262626" stroke="#262626" stroke-width="0.35">0.2</text>
<text transform="translate(234.93,1527.20)" font-size="39.5" text-anchor="middle" fill="#262626" stroke="#262626" stroke-width="0.35">2</text>
<text transform="translate(377.60,1527.20)" font-size="39.5" text-anchor="middle" fill="#262626" stroke="#262626" stroke-width="0.35">3</text>
<text transform="translate(520.27,1527.20)" font-size="39.5" text-anchor="middle" fill="#262626" stroke="#262626" stroke-width="0.35">4</text>
<text transform="translate(662.93,1527.20)" font-size="39.5" text-anchor="middle" fill="#262626" stroke="#262626" stroke-width="0.35">5</text>
<text transform="translate(805.60,1527.20)" font-size="39.5" text-anchor="middle" fill="#262626" stroke="#262626" stroke-width="0.35">6</text>
<text transform="translate(485.30,1595.20)" font-size="44.2" text-anchor="middle" fill="#262626" stroke="#262626" stroke-width="0.35">ECS (<tspan font-size="32.5" dy="-22.5">o</tspan><tspan dy="22.5">C)</tspan></text>
<text transform="translate(71.80,1147.20) rotate(-90)" font-size="44.2" text-anchor="middle" fill="#262626" stroke="#262626" stroke-width="0.35">SO warming (<tspan font-size="32.5" dy="-22.5">o</tspan><tspan dy="22.5">C)</tspan></text>
<text transform="translate(164.00,801.30)" font-size="39.5" fill="#000" stroke="#000" stroke-width="0.35"><tspan font-weight="bold">b</tspan> ECS <tspan font-style="italic">vs</tspan> SO warming</text>
<text transform="translate(449.00,1322.00)" font-size="39.5" fill="#000" stroke="#000" stroke-width="0.35">Corre. Coeff.= 0.7</text>
<text transform="translate(449.00,1386.00)" font-size="39.5" fill="#000" stroke="#000" stroke-width="0.35">Slope= 0.18</text>
<text transform="translate(449.00,1441.00)" font-size="39.5" fill="#000" stroke="#000" stroke-width="0.35">p&lt;0.001</text>
</g>
<g id="panel-c">
<rect x="1151.3" y="1243.6" width="17.8" height="17.8" fill="#00FF00" stroke="#000000" stroke-width="0.9" stroke-linejoin="miter"/>
<polygon points="1583.9,976.8 1569.8,952.4 1598.1,952.4" fill="#00FFFF" stroke="#000000" stroke-width="0.9" stroke-linejoin="miter"/>
<polygon points="1464.9,1077.5 1489.4,1063.4 1489.4,1091.6" fill="#FF00FF" stroke="#000000" stroke-width="0.9" stroke-linejoin="miter"/>
<polygon points="1433.3,1080.0 1408.9,1065.9 1408.9,1094.1" fill="#FFFF00" stroke="#000000" stroke-width="0.9" stroke-linejoin="miter"/>
<polygon points="1481.2,1101.1 1467.1,1125.6 1495.3,1125.6" fill="#000000" stroke="#000000" stroke-width="0.9" stroke-linejoin="miter"/>
<circle cx="1417.0" cy="1068.2" r="12.0" fill="#000000" stroke="#FF0000" stroke-width="0.9" stroke-linejoin="miter"/>
<rect x="1408.1" y="1089.8" width="17.8" height="17.8" fill="#FFFF00" stroke="#FF0000" stroke-width="0.9" stroke-linejoin="miter"/>
<polygon points="1096.0,1174.2 1108.0,1190.0 1096.0,1205.8 1084.0,1190.0" fill="#FF00FF" stroke="#FF0000" stroke-width="0.9" stroke-linejoin="miter"/>
<polygon points="1455.5,1080.5 1441.4,1056.0 1469.7,1056.0" fill="#00FFFF" stroke="#FF0000" stroke-width="0.9" stroke-linejoin="miter"/>
<polygon points="1182.4,1194.0 1206.9,1179.9 1206.9,1208.1" fill="#FF0000" stroke="#FF0000" stroke-width="0.9" stroke-linejoin="miter"/>
<polygon points="1227.9,1175.0 1203.4,1160.9 1203.4,1189.1" fill="#00FF00" stroke="#FF0000" stroke-width="0.9" stroke-linejoin="miter"/>
<polygon points="1545.4,963.1 1531.3,987.5 1559.5,987.5" fill="#0000FF" stroke="#FF0000" stroke-width="0.9" stroke-linejoin="miter"/>
<circle cx="1250.1" cy="1207.2" r="12.0" fill="#00FFFF" stroke="#0000FF" stroke-width="0.9" stroke-linejoin="miter"/>
<rect x="1241.2" y="1194.6" width="17.8" height="17.8" fill="#FF0000" stroke="#0000FF" stroke-width="0.9" stroke-linejoin="miter"/>
<polygon points="1211.6,1103.0 1223.6,1118.8 1211.6,1134.6 1199.6,1118.8" fill="#00FF00" stroke="#0000FF" stroke-width="0.9" stroke-linejoin="miter"/>
<polygon points="1169.6,1206.0 1194.0,1191.9 1194.0,1220.1" fill="#FF00FF" stroke="#0000FF" stroke-width="0.9" stroke-linejoin="miter"/>
<polygon points="1382.0,1119.5 1357.5,1105.4 1357.5,1133.6" fill="#FFFF00" stroke="#0000FF" stroke-width="0.9" stroke-linejoin="miter"/>
<polygon points="1198.7,1193.2 1184.6,1217.7 1212.9,1217.7" fill="#000000" stroke="#0000FF" stroke-width="0.9" stroke-linejoin="miter"/>
<circle cx="1340.0" cy="1125.0" r="12.0" fill="#FF0000" stroke="#FF00FF" stroke-width="0.9" stroke-linejoin="miter"/>
<line x1="993.3" y1="1289.7" x2="1635.3" y2="979.0" stroke="#000" stroke-width="5.1"/>
<circle cx="1250.1" cy="1150.1" r="12.0" fill="#0000FF" stroke="#000000" stroke-width="0.9" stroke-linejoin="miter"/>
<polygon points="1250.1,1119.2 1262.1,1135.0 1250.1,1150.8 1238.1,1135.0" fill="#FF0000" stroke="#000000" stroke-width="0.9" stroke-linejoin="miter"/>
<polygon points="1481.2,1081.3 1467.1,1056.8 1495.3,1056.8" fill="#0000FF" stroke="#0000FF" stroke-width="0.9" stroke-linejoin="miter"/>
<ellipse cx="0" cy="0" rx="338.2" ry="63.8" transform="translate(1329.35,1126.84) rotate(-26.9)" fill="none" stroke="#6C2782" stroke-width="2.3" stroke-dasharray="10 10.3" stroke-dashoffset="16.6"/>
<g stroke="#262626" stroke-width="1.3" fill="none">
<rect x="993.3" y="825.5" width="642.0" height="641.3"/>
<line x1="993.3" y1="825.5" x2="993.3" y2="818.0"/><line x1="993.3" y1="1466.8" x2="993.3" y2="1474.3"/>
<line x1="1121.7" y1="825.5" x2="1121.7" y2="818.0"/><line x1="1121.7" y1="1466.8" x2="1121.7" y2="1474.3"/>
<line x1="1250.1" y1="825.5" x2="1250.1" y2="818.0"/><line x1="1250.1" y1="1466.8" x2="1250.1" y2="1474.3"/>
<line x1="1378.5" y1="825.5" x2="1378.5" y2="818.0"/><line x1="1378.5" y1="1466.8" x2="1378.5" y2="1474.3"/>
<line x1="1506.9" y1="825.5" x2="1506.9" y2="818.0"/><line x1="1506.9" y1="1466.8" x2="1506.9" y2="1474.3"/>
<line x1="1635.3" y1="825.5" x2="1635.3" y2="818.0"/><line x1="1635.3" y1="1466.8" x2="1635.3" y2="1474.3"/>
<line x1="1019.0" y1="825.5" x2="1019.0" y2="821.7"/><line x1="1019.0" y1="1466.8" x2="1019.0" y2="1470.6"/>
<line x1="1044.7" y1="825.5" x2="1044.7" y2="821.7"/><line x1="1044.7" y1="1466.8" x2="1044.7" y2="1470.6"/>
<line x1="1070.3" y1="825.5" x2="1070.3" y2="821.7"/><line x1="1070.3" y1="1466.8" x2="1070.3" y2="1470.6"/>
<line x1="1096.0" y1="825.5" x2="1096.0" y2="821.7"/><line x1="1096.0" y1="1466.8" x2="1096.0" y2="1470.6"/>
<line x1="1147.4" y1="825.5" x2="1147.4" y2="821.7"/><line x1="1147.4" y1="1466.8" x2="1147.4" y2="1470.6"/>
<line x1="1173.1" y1="825.5" x2="1173.1" y2="821.7"/><line x1="1173.1" y1="1466.8" x2="1173.1" y2="1470.6"/>
<line x1="1198.7" y1="825.5" x2="1198.7" y2="821.7"/><line x1="1198.7" y1="1466.8" x2="1198.7" y2="1470.6"/>
<line x1="1224.4" y1="825.5" x2="1224.4" y2="821.7"/><line x1="1224.4" y1="1466.8" x2="1224.4" y2="1470.6"/>
<line x1="1275.8" y1="825.5" x2="1275.8" y2="821.7"/><line x1="1275.8" y1="1466.8" x2="1275.8" y2="1470.6"/>
<line x1="1301.5" y1="825.5" x2="1301.5" y2="821.7"/><line x1="1301.5" y1="1466.8" x2="1301.5" y2="1470.6"/>
<line x1="1327.1" y1="825.5" x2="1327.1" y2="821.7"/><line x1="1327.1" y1="1466.8" x2="1327.1" y2="1470.6"/>
<line x1="1352.8" y1="825.5" x2="1352.8" y2="821.7"/><line x1="1352.8" y1="1466.8" x2="1352.8" y2="1470.6"/>
<line x1="1404.2" y1="825.5" x2="1404.2" y2="821.7"/><line x1="1404.2" y1="1466.8" x2="1404.2" y2="1470.6"/>
<line x1="1429.9" y1="825.5" x2="1429.9" y2="821.7"/><line x1="1429.9" y1="1466.8" x2="1429.9" y2="1470.6"/>
<line x1="1455.5" y1="825.5" x2="1455.5" y2="821.7"/><line x1="1455.5" y1="1466.8" x2="1455.5" y2="1470.6"/>
<line x1="1481.2" y1="825.5" x2="1481.2" y2="821.7"/><line x1="1481.2" y1="1466.8" x2="1481.2" y2="1470.6"/>
<line x1="1532.6" y1="825.5" x2="1532.6" y2="821.7"/><line x1="1532.6" y1="1466.8" x2="1532.6" y2="1470.6"/>
<line x1="1558.3" y1="825.5" x2="1558.3" y2="821.7"/><line x1="1558.3" y1="1466.8" x2="1558.3" y2="1470.6"/>
<line x1="1583.9" y1="825.5" x2="1583.9" y2="821.7"/><line x1="1583.9" y1="1466.8" x2="1583.9" y2="1470.6"/>
<line x1="1609.6" y1="825.5" x2="1609.6" y2="821.7"/><line x1="1609.6" y1="1466.8" x2="1609.6" y2="1470.6"/>
<line x1="993.3" y1="896.8" x2="985.8" y2="896.8"/><line x1="1635.3" y1="896.8" x2="1642.8" y2="896.8"/>
<line x1="993.3" y1="1039.3" x2="985.8" y2="1039.3"/><line x1="1635.3" y1="1039.3" x2="1642.8" y2="1039.3"/>
<line x1="993.3" y1="1181.8" x2="985.8" y2="1181.8"/><line x1="1635.3" y1="1181.8" x2="1642.8" y2="1181.8"/>
<line x1="993.3" y1="1324.3" x2="985.8" y2="1324.3"/><line x1="1635.3" y1="1324.3" x2="1642.8" y2="1324.3"/>
<line x1="993.3" y1="1438.3" x2="989.5" y2="1438.3"/><line x1="1635.3" y1="1438.3" x2="1639.1" y2="1438.3"/>
<line x1="993.3" y1="1409.8" x2="989.5" y2="1409.8"/><line x1="1635.3" y1="1409.8" x2="1639.1" y2="1409.8"/>
<line x1="993.3" y1="1381.3" x2="989.5" y2="1381.3"/><line x1="1635.3" y1="1381.3" x2="1639.1" y2="1381.3"/>
<line x1="993.3" y1="1352.8" x2="989.5" y2="1352.8"/><line x1="1635.3" y1="1352.8" x2="1639.1" y2="1352.8"/>
<line x1="993.3" y1="1295.8" x2="989.5" y2="1295.8"/><line x1="1635.3" y1="1295.8" x2="1639.1" y2="1295.8"/>
<line x1="993.3" y1="1267.3" x2="989.5" y2="1267.3"/><line x1="1635.3" y1="1267.3" x2="1639.1" y2="1267.3"/>
<line x1="993.3" y1="1238.8" x2="989.5" y2="1238.8"/><line x1="1635.3" y1="1238.8" x2="1639.1" y2="1238.8"/>
<line x1="993.3" y1="1210.3" x2="989.5" y2="1210.3"/><line x1="1635.3" y1="1210.3" x2="1639.1" y2="1210.3"/>
<line x1="993.3" y1="1153.3" x2="989.5" y2="1153.3"/><line x1="1635.3" y1="1153.3" x2="1639.1" y2="1153.3"/>
<line x1="993.3" y1="1124.8" x2="989.5" y2="1124.8"/><line x1="1635.3" y1="1124.8" x2="1639.1" y2="1124.8"/>
<line x1="993.3" y1="1096.3" x2="989.5" y2="1096.3"/><line x1="1635.3" y1="1096.3" x2="1639.1" y2="1096.3"/>
<line x1="993.3" y1="1067.8" x2="989.5" y2="1067.8"/><line x1="1635.3" y1="1067.8" x2="1639.1" y2="1067.8"/>
<line x1="993.3" y1="1010.8" x2="989.5" y2="1010.8"/><line x1="1635.3" y1="1010.8" x2="1639.1" y2="1010.8"/>
<line x1="993.3" y1="982.3" x2="989.5" y2="982.3"/><line x1="1635.3" y1="982.3" x2="1639.1" y2="982.3"/>
<line x1="993.3" y1="953.8" x2="989.5" y2="953.8"/><line x1="1635.3" y1="953.8" x2="1639.1" y2="953.8"/>
<line x1="993.3" y1="925.3" x2="989.5" y2="925.3"/><line x1="1635.3" y1="925.3" x2="1639.1" y2="925.3"/>
<line x1="993.3" y1="868.3" x2="989.5" y2="868.3"/><line x1="1635.3" y1="868.3" x2="1639.1" y2="868.3"/>
<line x1="993.3" y1="839.8" x2="989.5" y2="839.8"/><line x1="1635.3" y1="839.8" x2="1639.1" y2="839.8"/>
</g>
<text transform="translate(962.00,912.36)" font-size="39.5" text-anchor="middle" fill="#262626" stroke="#262626" stroke-width="0.35">4</text>
<text transform="translate(962.00,1054.87)" font-size="39.5" text-anchor="middle" fill="#262626" stroke="#262626" stroke-width="0.35">3</text>
<text transform="translate(962.00,1197.38)" font-size="39.5" text-anchor="middle" fill="#262626" stroke="#262626" stroke-width="0.35">2</text>
<text transform="translate(962.00,1339.89)" font-size="39.5" text-anchor="middle" fill="#262626" stroke="#262626" stroke-width="0.35">1</text>
<text transform="translate(993.30,1527.20)" font-size="39.5" text-anchor="middle" fill="#262626" stroke="#262626" stroke-width="0.35">1</text>
<text transform="translate(1121.70,1527.20)" font-size="39.5" text-anchor="middle" fill="#262626" stroke="#262626" stroke-width="0.35">2</text>
<text transform="translate(1250.10,1527.20)" font-size="39.5" text-anchor="middle" fill="#262626" stroke="#262626" stroke-width="0.35">3</text>
<text transform="translate(1378.50,1527.20)" font-size="39.5" text-anchor="middle" fill="#262626" stroke="#262626" stroke-width="0.35">4</text>
<text transform="translate(1506.90,1527.20)" font-size="39.5" text-anchor="middle" fill="#262626" stroke="#262626" stroke-width="0.35">5</text>
<text transform="translate(1635.30,1527.20)" font-size="39.5" text-anchor="middle" fill="#262626" stroke="#262626" stroke-width="0.35">6</text>
<text transform="translate(1314.00,1595.20)" font-size="44.2" text-anchor="middle" fill="#262626" stroke="#262626" stroke-width="0.35">ECS (<tspan font-size="32.5" dy="-22.5">o</tspan><tspan dy="22.5">C)</tspan></text>
<text transform="translate(933.10,1223.10) rotate(-90)" font-size="44.2" fill="#262626" stroke="#262626" stroke-width="0.35">GMT (<tspan font-size="32.5" dy="-22.5">o</tspan><tspan dy="22.5">C)</tspan></text>
<text transform="translate(933.10,1240.70) rotate(-90) scale(1.355,1)" font-size="43" text-anchor="middle" fill="#262626" stroke="#262626" stroke-width="0.35">&#916;</text>
<text transform="translate(994.00,801.30)" font-size="39.5" fill="#000" stroke="#000" stroke-width="0.35"><tspan font-weight="bold">c</tspan> ECS <tspan font-style="italic">vs</tspan></text>
<text transform="translate(1188.00,801.30) scale(1.3,1)" font-size="36.5" text-anchor="middle" fill="#000" stroke="#000" stroke-width="0.35">&#916;</text>
<text transform="translate(1204.30,801.30)" font-size="39.5" fill="#000" stroke="#000" stroke-width="0.35">GMT</text>
<text transform="translate(1007.00,1340.00)" font-size="39.5" fill="#000" stroke="#000" stroke-width="0.35">Corre. Coeff.= 0.9</text>
<text transform="translate(1007.00,1397.00)" font-size="39.5" fill="#000" stroke="#000" stroke-width="0.35">Slope= 0.44</text>
<text transform="translate(1007.00,1454.00)" font-size="39.5" fill="#000" stroke="#000" stroke-width="0.35">p&lt;0.001</text>
</g>
<g id="legend">
<rect x="1728.6" y="46.8" width="390.2" height="1418.6" fill="#fff" stroke="#262626" stroke-width="1.3"/>
<circle cx="1776.3" cy="83.2" r="12.0" fill="#0000FF" stroke="#000000" stroke-width="0.9" stroke-linejoin="miter"/>
<text transform="translate(1822.30,96.50)" font-size="35.8" fill="#000" stroke="#000" stroke-width="0.35">BCC-CSM2-MR</text>
<rect x="1767.4" y="138.4" width="17.8" height="17.8" fill="#00FF00" stroke="#000000" stroke-width="0.9" stroke-linejoin="miter"/>
<text transform="translate(1822.30,160.58)" font-size="35.8" fill="#000" stroke="#000" stroke-width="0.35">CAMS-CSM1-0</text>
<polygon points="1776.3,195.6 1788.3,211.4 1776.3,227.2 1764.3,211.4" fill="#FF0000" stroke="#000000" stroke-width="0.9" stroke-linejoin="miter"/>
<text transform="translate(1822.30,224.66)" font-size="35.8" fill="#000" stroke="#000" stroke-width="0.35">FGOALS-f3-L</text>
<polygon points="1776.3,291.7 1762.2,267.3 1790.4,267.3" fill="#00FFFF" stroke="#000000" stroke-width="0.9" stroke-linejoin="miter"/>
<text transform="translate(1822.30,288.74)" font-size="35.8" fill="#000" stroke="#000" stroke-width="0.35">CanESM5</text>
<polygon points="1760.0,339.5 1784.5,325.4 1784.5,353.6" fill="#FF00FF" stroke="#000000" stroke-width="0.9" stroke-linejoin="miter"/>
<text transform="translate(1822.30,352.82)" font-size="35.8" fill="#000" stroke="#000" stroke-width="0.35">CNRM-CM6-1</text>
<polygon points="1792.6,403.6 1768.1,389.5 1768.1,417.7" fill="#FFFF00" stroke="#000000" stroke-width="0.9" stroke-linejoin="miter"/>
<text transform="translate(1822.30,416.90)" font-size="35.8" fill="#000" stroke="#000" stroke-width="0.35">CNRM-CM6-1-HR</text>
<polygon points="1776.3,451.4 1762.2,475.8 1790.4,475.8" fill="#000000" stroke="#000000" stroke-width="0.9" stroke-linejoin="miter"/>
<text transform="translate(1822.30,480.98)" font-size="35.8" fill="#000" stroke="#000" stroke-width="0.35">CNRM-ESM2-1</text>
<circle cx="1776.3" cy="531.8" r="12.0" fill="#000000" stroke="#FF0000" stroke-width="0.9" stroke-linejoin="miter"/>
<text transform="translate(1822.30,545.06)" font-size="35.8" fill="#000" stroke="#000" stroke-width="0.35">EC-Earth3</text>
<rect x="1767.4" y="586.9" width="17.8" height="17.8" fill="#FFFF00" stroke="#FF0000" stroke-width="0.9" stroke-linejoin="miter"/>
<text transform="translate(1822.30,609.14)" font-size="35.8" fill="#000" stroke="#000" stroke-width="0.35">EC-Earth3-Veg</text>
<polygon points="1776.3,644.1 1788.3,659.9 1776.3,675.7 1764.3,659.9" fill="#FF00FF" stroke="#FF0000" stroke-width="0.9" stroke-linejoin="miter"/>
<text transform="translate(1822.30,673.22)" font-size="35.8" fill="#000" stroke="#000" stroke-width="0.35">INM-CM4-8</text>
<polygon points="1776.3,740.3 1762.2,715.9 1790.4,715.9" fill="#00FFFF" stroke="#FF0000" stroke-width="0.9" stroke-linejoin="miter"/>
<text transform="translate(1822.30,737.30)" font-size="35.8" fill="#000" stroke="#000" stroke-width="0.35">IPSL-CM6A-LR</text>
<polygon points="1760.0,788.1 1784.5,774.0 1784.5,802.2" fill="#FF0000" stroke="#FF0000" stroke-width="0.9" stroke-linejoin="miter"/>
<text transform="translate(1822.30,801.38)" font-size="35.8" fill="#000" stroke="#000" stroke-width="0.35">MIROC6</text>
<polygon points="1792.6,852.2 1768.1,838.0 1768.1,866.3" fill="#00FF00" stroke="#FF0000" stroke-width="0.9" stroke-linejoin="miter"/>
<text transform="translate(1822.30,865.46)" font-size="35.8" fill="#000" stroke="#000" stroke-width="0.35">MIROC-ES2L</text>
<polygon points="1776.3,899.9 1762.2,924.4 1790.4,924.4" fill="#0000FF" stroke="#FF0000" stroke-width="0.9" stroke-linejoin="miter"/>
<text transform="translate(1822.30,929.54)" font-size="35.8" fill="#000" stroke="#000" stroke-width="0.35">UKESM1-0-LL</text>
<circle cx="1776.3" cy="980.3" r="12.0" fill="#00FFFF" stroke="#0000FF" stroke-width="0.9" stroke-linejoin="miter"/>
<text transform="translate(1822.30,993.62)" font-size="35.8" fill="#000" stroke="#000" stroke-width="0.35">MPI-ESM1-2-HR</text>
<rect x="1767.4" y="1035.5" width="17.8" height="17.8" fill="#FF0000" stroke="#0000FF" stroke-width="0.9" stroke-linejoin="miter"/>
<text transform="translate(1822.30,1057.70)" font-size="35.8" fill="#000" stroke="#000" stroke-width="0.35">MPI-ESM1-2-LR</text>
<polygon points="1776.3,1092.7 1788.3,1108.5 1776.3,1124.3 1764.3,1108.5" fill="#00FF00" stroke="#0000FF" stroke-width="0.9" stroke-linejoin="miter"/>
<text transform="translate(1822.30,1121.78)" font-size="35.8" fill="#000" stroke="#000" stroke-width="0.35">GISS-E2-1-G</text>
<polygon points="1776.3,1188.9 1762.2,1164.4 1790.4,1164.4" fill="#0000FF" stroke="#0000FF" stroke-width="0.9" stroke-linejoin="miter"/>
<text transform="translate(1822.30,1185.86)" font-size="35.8" fill="#000" stroke="#000" stroke-width="0.35">CESM2-WACCM</text>
<polygon points="1760.0,1236.6 1784.5,1222.5 1784.5,1250.8" fill="#FF00FF" stroke="#0000FF" stroke-width="0.9" stroke-linejoin="miter"/>
<text transform="translate(1822.30,1249.94)" font-size="35.8" fill="#000" stroke="#000" stroke-width="0.35">NorESM2-LM</text>
<polygon points="1792.6,1300.7 1768.1,1286.6 1768.1,1314.8" fill="#FFFF00" stroke="#0000FF" stroke-width="0.9" stroke-linejoin="miter"/>
<text transform="translate(1822.30,1314.02)" font-size="35.8" fill="#000" stroke="#000" stroke-width="0.35">GFDL-CM4</text>
<polygon points="1776.3,1348.5 1762.2,1373.0 1790.4,1373.0" fill="#000000" stroke="#0000FF" stroke-width="0.9" stroke-linejoin="miter"/>
<text transform="translate(1822.30,1378.10)" font-size="35.8" fill="#000" stroke="#000" stroke-width="0.35">GFDL-ESM4</text>
<circle cx="1776.3" cy="1428.9" r="12.0" fill="#FF0000" stroke="#FF00FF" stroke-width="0.9" stroke-linejoin="miter"/>
<text transform="translate(1822.30,1442.18)" font-size="35.8" fill="#000" stroke="#000" stroke-width="0.35">MCM-UA-1-0</text>
</g>
</svg>
</body></html>
